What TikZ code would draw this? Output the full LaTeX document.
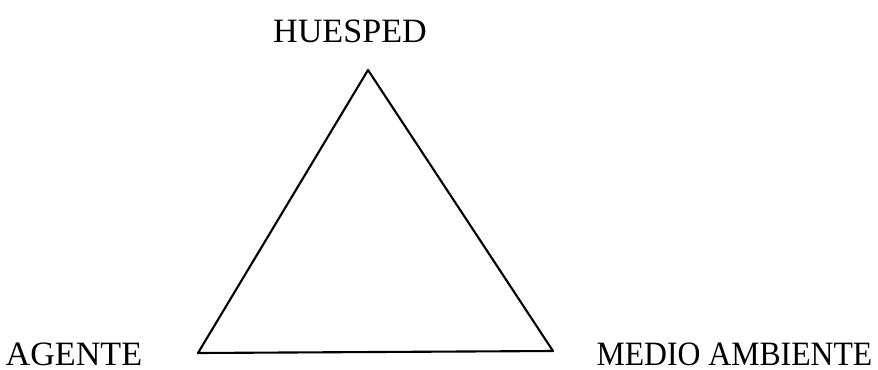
\documentclass[tikz,border=0pt]{standalone}
\usepackage{fontspec}
\setmainfont{Liberation Serif}
\begin{document}
\begin{tikzpicture}[x=0.01cm, y=-0.01cm, line cap=round, line join=round,
    every node/.style={inner sep=0pt}, label/.style={font=\fontsize{9.7}{11}\selectfont}]
  \useasboundingbox (0,0) rectangle (878,369);
  % vertices
  \coordinate (huesped) at (368,70);
  \coordinate (agente) at (198,353);
  \coordinate (medio) at (553,351);
  % triangle
  \draw[semithick] (huesped) -- (medio) -- (agente) -- cycle;
  % labels
  \node[label, anchor=base] (thuesped) at (350,42) {HUESPED};
  \node[label, anchor=base west] (tagente) at (5,365) {AGENTE};
  \node[label, anchor=base east, xscale=0.93, transform shape] (tmedio) at (873,365) {MEDIO AMBIENTE};
\end{tikzpicture}
\end{document}
